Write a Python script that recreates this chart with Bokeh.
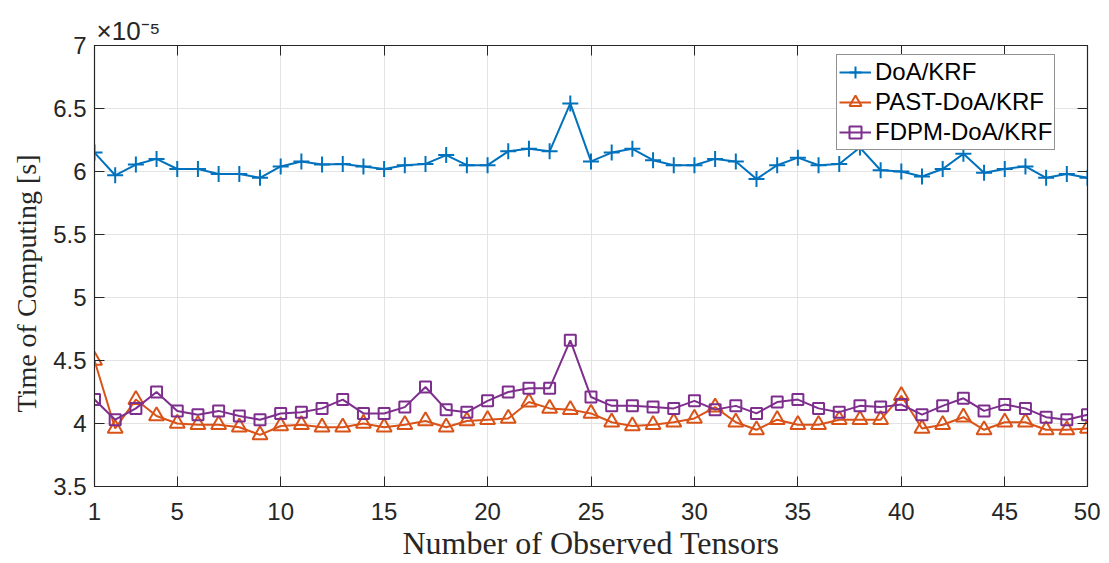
from bokeh.plotting import figure
from bokeh.models import (LinearAxis, FixedTicker, Range1d, Legend, LegendItem)
from bokeh.embed import file_html
from bokeh.resources import INLINE

# ---- data (Time of Computing, in units of 1e-5 s) ----
tensors = list(range(1, 50))
doa_krf = [6.15, 5.97, 6.055, 6.10, 6.02, 6.02, 5.98, 5.98, 5.95, 6.04,
           6.08, 6.055, 6.06, 6.04, 6.02, 6.05, 6.06, 6.13, 6.05, 6.05,
           6.16, 6.18, 6.16, 6.54, 6.08, 6.15, 6.18, 6.09, 6.05, 6.05,
           6.10, 6.08, 5.94, 6.05, 6.11, 6.05, 6.06, 6.19, 6.01, 6.00,
           5.96, 6.02, 6.14, 5.99, 6.02, 6.04, 5.95, 5.98, 5.95]
past_doa_krf = [4.50, 3.96, 4.19, 4.06, 4.00, 3.99, 3.99, 3.97, 3.91, 3.98,
                3.99, 3.97, 3.97, 4.00, 3.97, 3.99, 4.02, 3.97, 4.02, 4.03,
                4.04, 4.17, 4.12, 4.11, 4.08, 4.01, 3.98, 3.99, 4.01, 4.04,
                4.13, 4.01, 3.95, 4.03, 3.99, 3.99, 4.03, 4.03, 4.03, 4.22,
                3.96, 3.99, 4.05, 3.95, 4.01, 4.01, 3.95, 3.95, 3.96]
fdpm_doa_krf = [4.19, 4.03, 4.12, 4.25, 4.10, 4.07, 4.10, 4.06, 4.03, 4.08,
                4.09, 4.12, 4.19, 4.08, 4.08, 4.13, 4.29, 4.11, 4.09, 4.18,
                4.25, 4.28, 4.28, 4.66, 4.21, 4.14, 4.14, 4.13, 4.12, 4.18,
                4.11, 4.14, 4.08, 4.17, 4.19, 4.12, 4.09, 4.14, 4.13, 4.15,
                4.07, 4.14, 4.20, 4.10, 4.15, 4.12, 4.05, 4.03, 4.07]
x_ticks = [1, 5, 10, 15, 20, 25, 30, 35, 40, 45, 49]
x_tick_labels = ["1", "5", "10", "15", "20", "25", "30", "35", "40", "45", "50"]
y_ticks = [3.5, 4, 4.5, 5, 5.5, 6, 6.5, 7]
series_names = ["DoA/KRF", "PAST-DoA/KRF", "FDPM-DoA/KRF"]
colors = ["#0072BD", "#D95319", "#7E2F8E"]
multiplier = "×10⁻⁵"

AX = "#262626"
SANS = "Liberation Sans"
SERIF = "Liberation Serif"

p = figure(width=1100, height=563, output_backend="svg", toolbar_location=None,
           x_range=Range1d(1, 49), y_range=Range1d(3.5, 7),
           min_border_left=94, min_border_right=13, min_border_top=45,
           min_border_bottom=75, x_axis_label="Number of Observed Tensors",
           y_axis_label="Time of Computing [s]" + "\u00a0" * 5, title=multiplier)
p.outline_line_color = AX
p.outline_line_width = 1.2
p.background_fill_color = "white"
p.border_fill_color = "white"

p.title.text_font = SANS
p.title.text_font_size = "26px"
p.title.text_font_style = "normal"
p.title.text_color = AX
p.title.align = "left"
p.title.offset = 2
p.title.standoff = 0

for ax in (p.xaxis[0], p.yaxis[0]):
    ax.axis_line_color = AX
    ax.major_tick_line_color = AX
    ax.major_tick_in = 10
    ax.major_tick_out = 0
    ax.minor_tick_line_color = None
    ax.major_label_text_font = SANS
    ax.major_label_text_font_size = "24px"
    ax.major_label_text_color = AX
    ax.axis_label_text_font = SERIF
    ax.axis_label_text_font_style = "normal"
    ax.axis_label_text_color = AX

p.xaxis.axis_label_text_font_size = "32px"
p.yaxis.axis_label_text_font_size = "28px"
p.xaxis.ticker = FixedTicker(ticks=x_ticks)
p.xaxis.major_label_overrides = {t: l for t, l in zip(x_ticks, x_tick_labels)}
p.yaxis.ticker = FixedTicker(ticks=y_ticks)
p.yaxis.major_label_overrides = {t: ("%g" % t) for t in y_ticks}
p.xaxis.major_label_standoff = 16
p.yaxis.major_label_standoff = 8
p.xaxis.axis_label_standoff = 2
p.yaxis.axis_label_standoff = 8

# top / right axes with ticks only
top = LinearAxis(ticker=FixedTicker(ticks=x_ticks), major_label_text_font_size="0px",
                 axis_line_color=AX, major_tick_line_color=AX, major_tick_in=10,
                 major_tick_out=0, minor_tick_line_color=None,
                 major_label_standoff=0)
right = LinearAxis(ticker=FixedTicker(ticks=y_ticks), major_label_text_font_size="0px",
                   axis_line_color=AX, major_tick_line_color=AX, major_tick_in=10,
                   major_tick_out=0, minor_tick_line_color=None)
top.major_label_text_color = None
right.major_label_text_color = None
p.add_layout(top, "above")
p.add_layout(right, "right")

p.xgrid.grid_line_color = "#e3e3e3"
p.ygrid.grid_line_color = "#e3e3e3"

items = []
data = [doa_krf, past_doa_krf, fdpm_doa_krf]
markers = ["cross", "triangle", "square"]
sizes = [16, 15, 11]
for name, ys, c, m, s in zip(series_names, data, colors, markers, sizes):
    l = p.line(tensors, ys, line_color=c, line_width=2)
    sc = p.scatter(tensors, ys, marker=m, size=s, line_color=c, line_width=2,
                   fill_color=None if m != "cross" else c)
    items.append(LegendItem(label=name, renderers=[l, sc]))

legend = Legend(items=items, location=(742, 336))
legend.label_text_font = SANS
legend.label_text_font_size = "24px"
legend.label_text_color = "black"
legend.border_line_color = AX
legend.border_line_width = 1
legend.background_fill_color = "white"
legend.background_fill_alpha = 1
legend.glyph_width = 32
legend.glyph_height = 30
legend.label_height = 30
legend.label_width = 176
legend.spacing = 0
legend.padding = 2
legend.margin = 0
legend.label_standoff = 4
p.add_layout(legend, "center")

open("out.html", "w").write(file_html(p, INLINE))
